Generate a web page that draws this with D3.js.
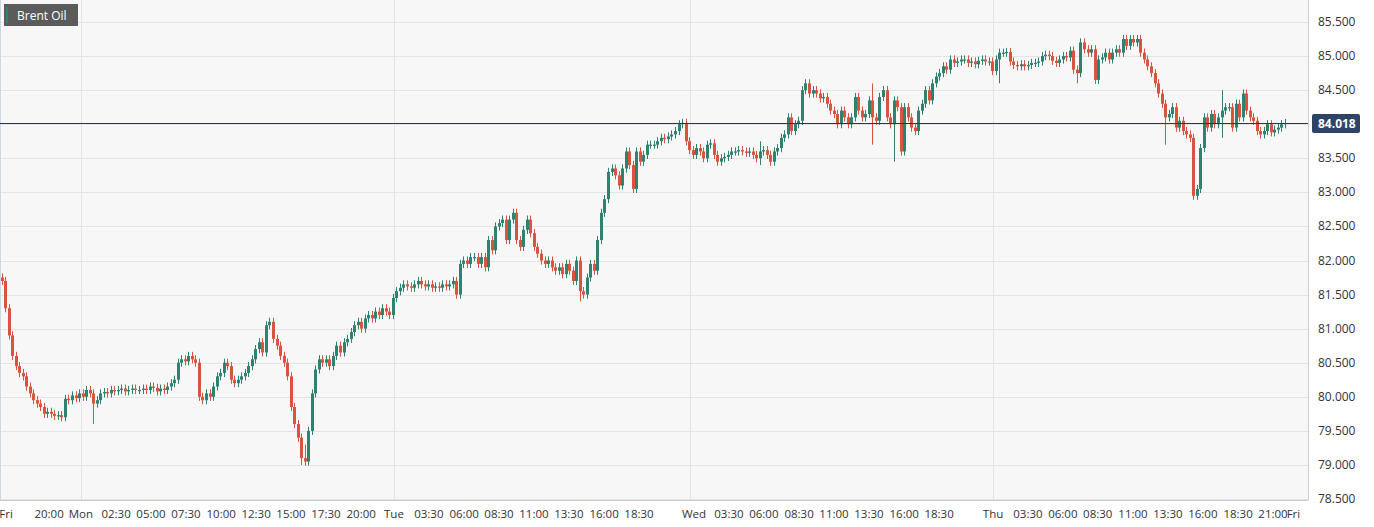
<!DOCTYPE html>
<html><head><meta charset="utf-8">
<script src="https://cdn.jsdelivr.net/npm/d3@7"></script>
<style>body{margin:0;background:#fff;font-family:"Open Sans",Arial,sans-serif}</style>
</head><body><svg id="c" width="1374" height="527"></svg>
<script>
const closes = [
81.7,81.3,80.9,80.6,80.45,80.35,80.3,80.15,80.05,79.95,
79.9,79.85,79.75,79.78,79.75,79.72,79.73,79.7,79.97,79.95,
80.02,79.98,80.05,80.0,80.1,80.05,79.9,79.95,80.05,80.07,
80.05,80.1,80.08,80.1,80.12,80.08,80.1,80.12,80.1,80.1,
80.12,80.1,80.15,80.13,80.08,80.12,80.1,80.15,80.2,80.25,
80.5,80.55,80.52,80.6,80.55,80.5,80.0,79.95,80.05,80.0,
80.15,80.3,80.35,80.5,80.45,80.25,80.2,80.25,80.3,80.35,
80.45,80.55,80.7,80.8,80.65,81.05,81.1,80.85,80.75,80.6,
80.5,80.3,79.85,79.6,79.4,79.1,79.05,79.5,80.05,80.4,
80.55,80.5,80.55,80.45,80.6,80.75,80.65,80.8,80.85,80.95,
81.05,81.1,81.0,81.15,81.2,81.15,81.25,81.2,81.3,81.25,
81.2,81.45,81.55,81.6,81.65,81.62,81.6,81.65,81.7,81.65,
81.62,81.65,81.6,81.62,81.6,81.65,81.62,81.65,81.7,81.5,
81.95,82.0,81.95,82.05,82.05,81.95,82.05,81.9,82.3,82.15,
82.5,82.55,82.6,82.3,82.6,82.7,82.3,82.2,82.45,82.6,
82.4,82.2,82.1,82.0,81.95,82.0,81.9,81.85,81.9,81.8,
81.95,81.85,81.7,82.0,81.55,81.5,81.75,81.95,81.85,82.3,
82.7,82.9,83.3,83.35,83.25,83.1,83.35,83.6,83.4,83.05,
83.6,83.45,83.55,83.7,83.7,83.7,83.75,83.8,83.78,83.82,
83.85,83.9,84.0,84.02,83.75,83.62,83.55,83.65,83.6,83.5,
83.7,83.72,83.55,83.45,83.5,83.52,83.55,83.6,83.6,83.62,
83.6,83.58,83.6,83.55,83.5,83.6,83.62,83.55,83.45,83.6,
83.65,83.8,83.85,84.1,83.9,84.0,84.05,84.5,84.6,84.45,
84.5,84.45,84.38,84.4,84.3,84.2,84.15,84.0,84.2,84.1,
84.0,84.1,84.4,84.2,84.1,84.15,84.35,84.1,84.05,84.4,
84.5,84.1,84.0,84.35,84.25,83.6,84.25,84.1,83.95,83.9,
84.2,84.3,84.5,84.35,84.6,84.7,84.75,84.85,84.8,84.95,
84.9,84.92,84.95,84.95,84.9,84.92,84.88,84.93,84.95,84.92,
84.92,84.78,84.95,85.05,85.05,85.06,84.92,84.87,84.85,84.88,
84.85,84.87,84.9,84.9,84.92,85.0,85.02,85.0,84.93,84.9,
84.95,85.0,84.98,85.08,84.8,84.75,85.2,85.1,85.05,85.1,
84.65,84.95,84.98,85.05,84.95,85.05,85.1,85.05,85.25,85.15,
85.25,85.2,85.25,85.05,84.95,84.85,84.75,84.6,84.45,84.3,
84.1,84.15,84.25,83.95,84.05,83.9,83.85,83.8,82.95,83.05,
83.65,84.1,83.95,84.15,84.0,84.1,84.2,84.25,84.25,83.95,
84.3,84.1,84.45,84.2,84.1,84.05,83.9,83.85,83.9,84.0,
83.88,83.92,83.95,84.0,84.018
];
const firstOpen = 81.75;
// notable wick extremes: [index, low, high]
const wickExtremes = [[85,79.0,79.3],[26,79.6,80.0],[86,79.0,79.3],[164,81.4,81.8],[283,84.6,84.8],[305,84.6,84.85],[338,82.9,83.1],[339,82.9,83.1],[253,83.45,84.1],[215,83.4,83.75],[247,83.7,84.6],[330,83.7,84.35],[346,83.8,84.5]];
const tickLabels = ["Fri","20:00","Mon","02:30","05:00","07:30","10:00","12:30","15:00","17:30","20:00","Tue","03:30","06:00","08:30","11:00","13:30","16:00","18:30","Wed","03:30","06:00","08:30","11:00","13:30","16:00","18:30","Thu","03:30","06:00","08:30","11:00","13:30","16:00","18:30","21:00","Fri"];
const tickIndex = [1.3,13.5,22.5,32.5,42.4,52.3,62.3,72.2,82.1,92.0,102.0,111.3,121.2,131.2,141.1,151.0,160.9,170.9,180.8,196.4,206.3,216.2,226.2,236.1,246.0,256.0,265.9,281.2,291.1,301.0,310.9,320.9,330.8,340.7,350.7,360.6,366.4];
const dayLineIndex = [22.5,111.3,195.3,281.2];
const priceTicks = [78.5,79,79.5,80,80.5,81,81.5,82,82.5,83,83.5,84,84.5,85,85.5];
const lastPrice = 84.018;

const svg = d3.select("#c");
const W=1308, H=500;
const x = d3.scaleLinear().domain([0,364]).range([1.5,1285]);
const y = d3.scaleLinear().domain([78.5,85.5]).range([499,22]);
svg.append("rect").attr("width",W).attr("height",H).attr("fill","#f7f7f7");
svg.selectAll(".hg").data(priceTicks).join("line").attr("x1",0).attr("x2",W)
  .attr("y1",d=>Math.round(y(d))+.5).attr("y2",d=>Math.round(y(d))+.5).attr("stroke","#e4e4e4");
svg.selectAll(".vg").data(dayLineIndex).join("line").attr("y1",0).attr("y2",H)
  .attr("x1",d=>Math.round(x(d))+.5).attr("x2",d=>Math.round(x(d))+.5).attr("stroke","#e4e4e4");
svg.append("line").attr("x1",W+.5).attr("x2",W+.5).attr("y1",0).attr("y2",H).attr("stroke","#ccc");
svg.append("line").attr("x1",0).attr("x2",W).attr("y1",H+.5).attr("y2",H+.5).attr("stroke","#ccc");
svg.append("line").attr("x1",.5).attr("x2",.5).attr("y1",0).attr("y2",H).attr("stroke","#cfd6e6");

const ext = new Map(wickExtremes.map(d=>[d[0],d]));
const candles = closes.map((c,i)=>{
  const o = i===0?firstOpen:closes[i-1];
  let lo=Math.min(o,c)-0.06, hi=Math.max(o,c)+0.06;
  if(ext.has(i)){lo=Math.min(lo,ext.get(i)[1]);hi=Math.max(hi,ext.get(i)[2]);}
  return {i,o,c,lo,hi};
});
const g = svg.append("g");
candles.forEach(d=>{
  const col = d.c>=d.o?"#2e8270":"#d9533f";
  const cx = Math.round(x(d.i));
  g.append("line").attr("x1",cx+.5).attr("x2",cx+.5).attr("y1",y(d.hi)).attr("y2",y(d.lo)).attr("stroke",col).attr("stroke-width",1);
  const t=y(Math.max(d.o,d.c)), b=y(Math.min(d.o,d.c));
  g.append("rect").attr("x",cx-1).attr("width",3).attr("y",t).attr("height",Math.max(1.2,b-t)).attr("fill",col);
});

svg.append("line").attr("x1",0).attr("x2",W).attr("y1",Math.round(y(lastPrice))+.5).attr("y2",Math.round(y(lastPrice))+.5).attr("stroke","#2a3550");
svg.selectAll(".yl").data(priceTicks).join("text").attr("x",1318).attr("y",d=>y(d)+4)
  .attr("font-size",12).attr("fill","#333").text(d=>d3.format(".3f")(d));
const ly=Math.round(y(lastPrice));
svg.append("rect").attr("x",1312).attr("y",ly-9).attr("width",48).attr("height",19).attr("rx",2).attr("fill","#2d4466");
svg.append("text").attr("x",1318).attr("y",ly+5).attr("font-size",12).attr("font-weight","bold").attr("fill","#fff").text(d3.format(".3f")(lastPrice));
svg.selectAll(".xl").data(tickLabels).join("text").attr("x",(d,i)=>x(tickIndex[i])).attr("y",518)
  .attr("text-anchor","middle").attr("font-size",11.5).attr("fill","#333").text(d=>d);

svg.append("rect").attr("x",4).attr("y",4).attr("width",74).attr("height",22).attr("fill","#5b5b5b");
svg.append("rect").attr("x",6).attr("y",7).attr("width",2).attr("height",16).attr("fill","#2e8270");
svg.append("text").attr("x",17).attr("y",20).attr("font-size",12).attr("fill","#fff").text("Brent Oil");
</script></body></html>
